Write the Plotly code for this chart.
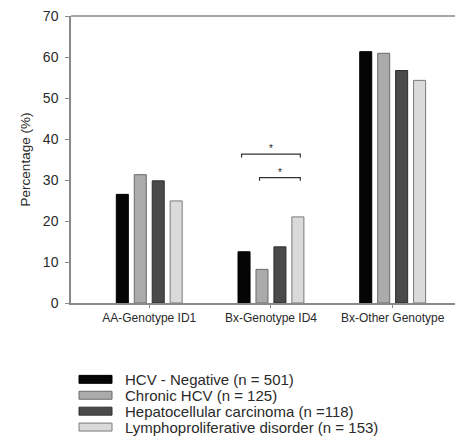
import plotly.graph_objects as go

categories = ["AA-Genotype ID1", "Bx-Genotype ID4", "Bx-Other Genotype"]
series_names = ["HCV - Negative (n = 501)", "Chronic HCV (n = 125)",
                "Hepatocellular carcinoma (n =118)", "Lymphoproliferative disorder (n = 153)"]
hcv_negative = [26.5, 12.5, 61.3]
chronic_hcv = [31.3, 8.2, 60.9]
hepatocellular = [29.8, 13.7, 56.7]
lymphoproliferative = [24.9, 21.0, 54.3]
y_ticks = [0, 10, 20, 30, 40, 50, 60, 70]

# significance brackets: (group index, from series, to series, height)
brackets = [(1, 0, 3, 36.3), (1, 1, 3, 30.6)]

colors = ["#050505", "#ababab", "#4a4a4a", "#dadada"]
edge = ["#000000", "#6a6a6a", "#2e2e2e", "#7a7a7a"]

# the page body adds an 8px margin; size the figure so the window shows the same frame
OFF = 8
WIN_W, WIN_H = 463, 439
W, H = WIN_W - OFF, WIN_H - OFF
PLOT_L, PLOT_T, PLOT_B = 71, 14, 302.7   # window pixels
L, T, R = PLOT_L - OFF, PLOT_T - OFF, 0
B = H - (PLOT_B - OFF)
BARGAP, GROUPGAP = 0.41, 0.33
XR = [-0.643, 2.578]
FONT = "Liberation Sans, Arial, sans-serif"
TXT = "#2a2a2a"
AXC = "#8a8a8a"

fig = go.Figure()
values = [hcv_negative, chronic_hcv, hepatocellular, lymphoproliferative]
for name, v, c, e in zip(series_names, values, colors, edge):
    fig.add_trace(go.Bar(x=categories, y=v, name=name, marker=dict(color=c, line=dict(color=e, width=1)),
                         showlegend=False))

n = len(values)
slot = (1 - BARGAP) / n
def bar_center(g, s):
    return g + (s - (n - 1) / 2) * slot

shapes = []
annotations = []
for g, s0, s1, h in brackets:
    x0 = bar_center(g, s0) - 0.02
    x1 = bar_center(g, s1) + 0.02
    shapes.append(dict(type="path", xref="x", yref="y",
                       path=f"M{x0},{h-0.8} L{x0},{h} L{x1},{h} L{x1},{h-0.8}",
                       line=dict(color="#333", width=1.2)))
    annotations.append(dict(x=(x0 + x1) / 2, y=h, xref="x", yref="y", text="*", showarrow=False,
                            yanchor="bottom", yshift=-2, font=dict(size=10, color="#222", family=FONT)))

# top frame line
shapes.append(dict(type="line", xref="paper", yref="paper", x0=0, x1=1, y0=1, y1=1,
                   line=dict(color=AXC, width=1.5), layer="above"))

# custom legend with wide swatches (positions in window pixels)
pw = W - L - R
ph = H - T - B
def px_x(p):
    return (p - PLOT_L) / pw
def px_y(p):
    return (PLOT_B - p) / ph
row0, dy = 379.5, 16
for i, (name, c, e) in enumerate(zip(series_names, colors, edge)):
    yc = row0 + i * dy
    shapes.append(dict(type="rect", xref="paper", yref="paper",
                       x0=px_x(79), x1=px_x(112), y0=px_y(yc + 4), y1=px_y(yc - 4),
                       fillcolor=c, line=dict(color=e, width=1)))
    annotations.append(dict(x=px_x(123), y=px_y(yc), xref="paper", yref="paper", text=name,
                            showarrow=False, xanchor="left", yanchor="middle",
                            font=dict(size=15, color=TXT, family=FONT)))

fig.update_layout(
    width=W, height=H, margin=dict(l=L, r=R, t=T, b=B, pad=0),
    paper_bgcolor="white", plot_bgcolor="white",
    barmode="group", bargap=BARGAP, bargroupgap=GROUPGAP,
    font=dict(family=FONT, color=TXT, size=12),
    shapes=shapes, annotations=annotations,
    xaxis=dict(range=XR, showgrid=False, showline=True, linecolor=AXC, linewidth=1.5,
               ticks="outside", ticklen=3, tickcolor=AXC,
               tickfont=dict(size=12, color=TXT), zeroline=False),
    yaxis=dict(range=[0, 70], tickvals=y_ticks, showgrid=False, showline=True, linecolor=AXC,
               linewidth=1.5, ticks="outside", ticklen=4, tickcolor=AXC, ticklabelstandoff=4,
               ticklabeloverflow="allow",
               tickfont=dict(size=14, color=TXT), zeroline=False,
               title=dict(text="Percentage (%)", font=dict(size=13.5, color=TXT), standoff=9)),
)

fig.write_html("out.html")
